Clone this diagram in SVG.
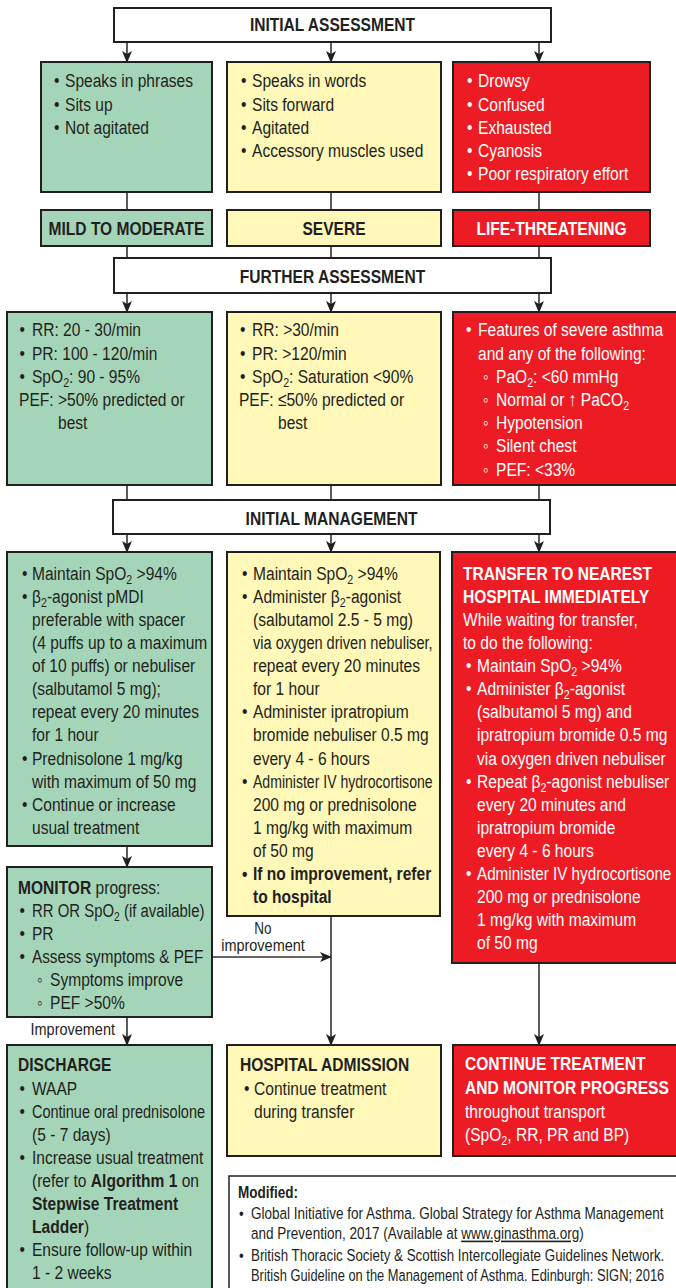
<svg xmlns="http://www.w3.org/2000/svg" width="676" height="1288" viewBox="0 0 676 1288">
<style>
.t{font-family:"Liberation Sans",Arial,sans-serif;font-size:19px;fill:#231f20}
.w{fill:#fff}
.b{font-weight:bold}
.c{text-anchor:middle}
.e{text-anchor:end}
.s{font-size:13px}
.r{font-size:16.5px}
.l{font-size:16.5px}
.bx{fill:#fff;stroke:#231f20;stroke-width:2}
.g{fill:#a5d5b8;stroke:#231f20;stroke-width:2}
.y{fill:#fff8b8;stroke:#231f20;stroke-width:2}
.rd{fill:#ed1c24;stroke:#231f20;stroke-width:2}
.ln{fill:none;stroke:#333;stroke-width:1.6}
.ar{fill:none;stroke:#333;stroke-width:1.6;marker-end:url(#ah)}
</style>
<defs>
<marker id="ah" markerUnits="userSpaceOnUse" markerWidth="12" markerHeight="12" viewBox="0 0 12 12" refX="11" refY="6" orient="auto">
<path d="M0,1 L12,6 L0,11 L3,6 z" fill="#231f20"/>
</marker>
</defs>

<g id="connectors">
<path class="ar" d="M127,42 V62"/>
<path class="ar" d="M331,42 V62"/>
<path class="ar" d="M539,42 V62"/>
<path class="ln" d="M127,192 V210 M331,192 V210 M539,192 V210"/>
<path class="ln" d="M127,246 V258 M331,246 V258 M539,246 V258"/>
<path class="ar" d="M127,293 V312"/>
<path class="ar" d="M331,293 V312"/>
<path class="ar" d="M539,293 V312"/>
<path class="ln" d="M127,485 V500 M331,485 V500 M539,485 V500"/>
<path class="ar" d="M127,534 V552"/>
<path class="ar" d="M331,534 V552"/>
<path class="ar" d="M539,534 V552"/>
<path class="ar" d="M127,846 V867"/>
<path class="ar" d="M331,916 V1045"/>
<path class="ar" d="M212,957 H331"/>
<path class="ar" d="M539,963 V1045"/>
<path class="ar" d="M127,1017 V1045"/>
<g transform="scale(0.82,1)">
<text class="t l c" x="320.73" y="934">No</text>
<text class="t l c" x="320.73" y="951.5" textLength="102" lengthAdjust="spacingAndGlyphs">improvement</text>
<text class="t l e" x="140.24" y="1035.5" textLength="103" lengthAdjust="spacingAndGlyphs">Improvement</text>
</g>
</g>

<g id="initial-assessment">
<rect class="bx" x="114" y="8" width="437" height="34"/>
<g transform="scale(0.82,1)">
<text class="t b c" x="405.49" y="31.5">INITIAL ASSESSMENT</text>
</g>
</g>

<g id="mild-signs">
<rect class="g" x="41" y="62" width="171" height="130"/>
<g transform="scale(0.82,1)">
<text class="t" y="87.5"><tspan x="65.85">•</tspan><tspan x="79.27">Speaks in phrases</tspan></text>
<text class="t" y="110.7"><tspan x="65.85">•</tspan><tspan x="79.27">Sits up</tspan></text>
<text class="t" y="133.9"><tspan x="65.85">•</tspan><tspan x="79.27">Not agitated</tspan></text>
</g>
</g>

<g id="severe-signs">
<rect class="y" x="227" y="62" width="214" height="130"/>
<g transform="scale(0.82,1)">
<text class="t" y="87.5"><tspan x="293.9">•</tspan><tspan x="307.32">Speaks in words</tspan></text>
<text class="t" y="110.7"><tspan x="293.9">•</tspan><tspan x="307.32">Sits forward</tspan></text>
<text class="t" y="133.9"><tspan x="293.9">•</tspan><tspan x="307.32">Agitated</tspan></text>
<text class="t" y="157.1"><tspan x="293.9">•</tspan><tspan x="307.32">Accessory muscles used</tspan></text>
</g>
</g>

<g id="life-signs">
<rect class="rd" x="453" y="62" width="197" height="130"/>
<g transform="scale(0.82,1)">
<text class="t w" y="87.5"><tspan x="569.51">•</tspan><tspan x="582.93">Drowsy</tspan></text>
<text class="t w" y="110.7"><tspan x="569.51">•</tspan><tspan x="582.93">Confused</tspan></text>
<text class="t w" y="133.9"><tspan x="569.51">•</tspan><tspan x="582.93">Exhausted</tspan></text>
<text class="t w" y="157.1"><tspan x="569.51">•</tspan><tspan x="582.93">Cyanosis</tspan></text>
<text class="t w" y="180.3"><tspan x="569.51">•</tspan><tspan x="582.93">Poor respiratory effort</tspan></text>
</g>
</g>

<g id="label-mild">
<rect class="g" x="41" y="210" width="171" height="36"/>
<g transform="scale(0.82,1)"><text class="t b c" x="154.27" y="235.5">MILD TO MODERATE</text></g>
</g>
<g id="label-severe">
<rect class="y" x="227" y="210" width="214" height="36"/>
<g transform="scale(0.82,1)"><text class="t b c" x="407.32" y="235.5">SEVERE</text></g>
</g>
<g id="label-life">
<rect class="rd" x="453" y="210" width="197" height="36"/>
<g transform="scale(0.82,1)"><text class="t b c w" x="672.56" y="235.5">LIFE-THREATENING</text></g>
</g>

<g id="further-assessment">
<rect class="bx" x="114" y="258" width="437" height="35"/>
<g transform="scale(0.82,1)"><text class="t b c" x="405.49" y="283.5">FURTHER ASSESSMENT</text></g>
</g>

<g id="mild-further">
<rect class="g" x="7" y="312" width="205" height="173"/>
<g transform="scale(0.82,1)">
<text class="t" y="336.5"><tspan x="23.78">•</tspan><tspan x="39.02">RR: 20 - 30/min</tspan></text>
<text class="t" y="359.7"><tspan x="23.78">•</tspan><tspan x="39.02">PR: 100 - 120/min</tspan></text>
<text class="t" y="382.9"><tspan x="23.78">•</tspan><tspan x="39.02">SpO</tspan><tspan class="s" dy="4">2</tspan><tspan dy="-4">: 90 - 95%</tspan></text>
<text class="t" x="23.17" y="406.1">PEF: &gt;50% predicted or</text>
<text class="t" x="70.73" y="429.3">best</text>
</g>
</g>

<g id="severe-further">
<rect class="y" x="227" y="312" width="214" height="173"/>
<g transform="scale(0.82,1)">
<text class="t" y="336.5"><tspan x="292.68">•</tspan><tspan x="307.32">RR: &gt;30/min</tspan></text>
<text class="t" y="359.7"><tspan x="292.68">•</tspan><tspan x="307.32">PR: &gt;120/min</tspan></text>
<text class="t" y="382.9"><tspan x="292.68">•</tspan><tspan x="307.32">SpO</tspan><tspan class="s" dy="4">2</tspan><tspan dy="-4">: Saturation &lt;90%</tspan></text>
<text class="t" x="291.46" y="406.1">PEF: ≤50% predicted or</text>
<text class="t" x="339.02" y="429.3">best</text>
</g>
</g>

<g id="life-further">
<rect class="rd" x="453" y="312" width="230" height="173"/>
<g transform="scale(0.82,1)">
<text class="t w" y="336.5"><tspan x="568.29">•</tspan><tspan x="582.93">Features of severe asthma</tspan></text>
<text class="t w" x="582.93" y="359.7">and any of the following:</text>
<text class="t w" y="382.9"><tspan x="589.02">◦</tspan><tspan x="604.88">PaO</tspan><tspan class="s" dy="4">2</tspan><tspan dy="-4">: &lt;60 mmHg</tspan></text>
<text class="t w" y="406.1"><tspan x="589.02">◦</tspan><tspan x="604.88">Normal or ↑ PaCO</tspan><tspan class="s" dy="4">2</tspan></text>
<text class="t w" y="429.3"><tspan x="589.02">◦</tspan><tspan x="604.88">Hypotension</tspan></text>
<text class="t w" y="452.5"><tspan x="589.02">◦</tspan><tspan x="604.88">Silent chest</tspan></text>
<text class="t w" y="475.7"><tspan x="589.02">◦</tspan><tspan x="604.88">PEF: &lt;33%</tspan></text>
</g>
</g>

<g id="initial-management">
<rect class="bx" x="113" y="500" width="437" height="34"/>
<g transform="scale(0.82,1)"><text class="t b c" x="404.27" y="525.5">INITIAL MANAGEMENT</text></g>
</g>

<g id="mild-management">
<rect class="g" x="7" y="552" width="205" height="294"/>
<g transform="scale(0.82,1)">
<text class="t" y="579.8"><tspan x="26.83">•</tspan><tspan x="39.02">Maintain SpO</tspan><tspan class="s" dy="4">2</tspan><tspan dy="-4"> &gt;94%</tspan></text>
<text class="t" y="602.9"><tspan x="26.83">•</tspan><tspan x="39.02">β</tspan><tspan class="s" dy="4">2</tspan><tspan dy="-4">-agonist pMDI</tspan></text>
<text class="t" x="39.02" y="626">preferable with spacer</text>
<text class="t" x="39.02" y="649.1">(4 puffs up to a maximum</text>
<text class="t" x="39.02" y="672.2">of 10 puffs) or nebuliser</text>
<text class="t" x="39.02" y="695.3">(salbutamol 5 mg);</text>
<text class="t" x="39.02" y="718.4">repeat every 20 minutes</text>
<text class="t" x="39.02" y="741.5">for 1 hour</text>
<text class="t" y="764.6"><tspan x="26.83">•</tspan><tspan x="39.02">Prednisolone 1 mg/kg</tspan></text>
<text class="t" x="39.02" y="787.7">with maximum of 50 mg</text>
<text class="t" y="810.8"><tspan x="26.83">•</tspan><tspan x="39.02">Continue or increase</tspan></text>
<text class="t" x="39.02" y="833.9">usual treatment</text>
</g>
</g>

<g id="severe-management">
<rect class="y" x="227" y="552" width="213" height="364"/>
<g transform="scale(0.82,1)">
<text class="t" y="579.8"><tspan x="295.12">•</tspan><tspan x="308.54">Maintain SpO</tspan><tspan class="s" dy="4">2</tspan><tspan dy="-4"> &gt;94%</tspan></text>
<text class="t" y="602.9"><tspan x="295.12">•</tspan><tspan x="308.54">Administer β</tspan><tspan class="s" dy="4">2</tspan><tspan dy="-4">-agonist</tspan></text>
<text class="t" x="308.54" y="626">(salbutamol 2.5 - 5 mg)</text>
<text class="t" x="308.54" y="649.1" textLength="219" lengthAdjust="spacingAndGlyphs">via oxygen driven nebuliser,</text>
<text class="t" x="308.54" y="672.2">repeat every 20 minutes</text>
<text class="t" x="308.54" y="695.3">for 1 hour</text>
<text class="t" y="718.4"><tspan x="295.12">•</tspan><tspan x="308.54">Administer ipratropium</tspan></text>
<text class="t" x="308.54" y="741.5">bromide nebuliser 0.5 mg</text>
<text class="t" x="308.54" y="764.6">every 4 - 6 hours</text>
<text class="t" x="295.12" y="787.7">•</text>
<text class="t" x="308.54" y="787.7" textLength="219" lengthAdjust="spacingAndGlyphs">Administer IV hydrocortisone</text>
<text class="t" x="308.54" y="810.8">200 mg or prednisolone</text>
<text class="t" x="308.54" y="833.9">1 mg/kg with maximum</text>
<text class="t" x="308.54" y="857">of 50 mg</text>
<text class="t b" y="880.1"><tspan x="295.12">•</tspan><tspan x="308.54">If no improvement, refer</tspan></text>
<text class="t b" x="308.54" y="903.2">to hospital</text>
</g>
</g>

<g id="life-management">
<rect class="rd" x="452" y="552" width="230" height="411"/>
<g transform="scale(0.82,1)">
<text class="t w b" x="564.63" y="579.8">TRANSFER TO NEAREST</text>
<text class="t w b" x="564.63" y="602.9">HOSPITAL IMMEDIATELY</text>
<text class="t w" x="564.63" y="626">While waiting for transfer,</text>
<text class="t w" x="564.63" y="649.1">to do the following:</text>
<text class="t w" y="672.2"><tspan x="568.29">•</tspan><tspan x="581.71">Maintain SpO</tspan><tspan class="s" dy="4">2</tspan><tspan dy="-4"> &gt;94%</tspan></text>
<text class="t w" y="695.3"><tspan x="568.29">•</tspan><tspan x="581.71">Administer β</tspan><tspan class="s" dy="4">2</tspan><tspan dy="-4">-agonist</tspan></text>
<text class="t w" x="581.71" y="718.4">(salbutamol 5 mg) and</text>
<text class="t w" x="581.71" y="741.5">ipratropium bromide 0.5 mg</text>
<text class="t w" x="581.71" y="764.6">via oxygen driven nebuliser</text>
<text class="t w" y="787.7"><tspan x="568.29">•</tspan><tspan x="581.71">Repeat β</tspan><tspan class="s" dy="4">2</tspan><tspan dy="-4">-agonist nebuliser</tspan></text>
<text class="t w" x="581.71" y="810.8">every 20 minutes and</text>
<text class="t w" x="581.71" y="833.9">ipratropium bromide</text>
<text class="t w" x="581.71" y="857">every 4 - 6 hours</text>
<text class="t w" x="568.29" y="880.1">•</text>
<text class="t w" x="581.71" y="880.1" textLength="237" lengthAdjust="spacingAndGlyphs">Administer IV hydrocortisone</text>
<text class="t w" x="581.71" y="903.2">200 mg or prednisolone</text>
<text class="t w" x="581.71" y="926.3">1 mg/kg with maximum</text>
<text class="t w" x="581.71" y="949.4">of 50 mg</text>
</g>
</g>

<g id="monitor">
<rect class="g" x="7" y="867" width="205" height="150"/>
<g transform="scale(0.82,1)">
<text class="t" x="21.95" y="894.5"><tspan class="b">MONITOR</tspan> progress:</text>
<text class="t" x="23.78" y="917.5">•</text>
<text class="t" y="940.5"><tspan x="23.78">•</tspan><tspan x="39.02">PR</tspan></text>
<text class="t" x="23.78" y="963.5">•</text>
<text class="t" x="39.02" y="963.5" textLength="209" lengthAdjust="spacingAndGlyphs">Assess symptoms &amp; PEF</text>
<text class="t" y="986.5"><tspan x="45.12">◦</tspan><tspan x="60.98">Symptoms improve</tspan></text>
<text class="t" y="1009.5"><tspan x="45.12">◦</tspan><tspan x="60.98">PEF &gt;50%</tspan></text>
</g>
<g transform="scale(0.786,1)">
<text class="t" x="40.71" y="917.5">RR OR SpO<tspan class="s" dy="4">2</tspan><tspan dy="-4"> (if available)</tspan></text>
</g>
</g>

<g id="discharge">
<rect class="g" x="7" y="1045" width="205" height="260"/>
<g transform="scale(0.82,1)">
<text class="t b" x="21.95" y="1071">DISCHARGE</text>
<text class="t" y="1095.5"><tspan x="23.78">•</tspan><tspan x="39.02">WAAP</tspan></text>
<text class="t" x="23.78" y="1118.5">•</text>
<text class="t" x="39.02" y="1118.5" textLength="211" lengthAdjust="spacingAndGlyphs">Continue oral prednisolone</text>
<text class="t" x="39.02" y="1141.5">(5 - 7 days)</text>
<text class="t" y="1164.5"><tspan x="23.78">•</tspan><tspan x="39.02">Increase usual treatment</tspan></text>
<text class="t" x="39.02" y="1187.5">(refer to <tspan class="b">Algorithm 1</tspan> on</text>
<text class="t b" x="39.02" y="1210.5">Stepwise Treatment</text>
<text class="t" x="39.02" y="1233.5"><tspan class="b">Ladder</tspan>)</text>
<text class="t" y="1256.5"><tspan x="23.78">•</tspan><tspan x="39.02">Ensure follow-up within</tspan></text>
<text class="t" x="39.02" y="1279.5">1 - 2 weeks</text>
</g>
</g>

<g id="hospital-admission">
<rect class="y" x="227" y="1045" width="214" height="111"/>
<g transform="scale(0.82,1)">
<text class="t b" x="292.68" y="1071">HOSPITAL ADMISSION</text>
<text class="t" y="1095.5"><tspan x="297.56">•</tspan><tspan x="309.76">Continue treatment</tspan></text>
<text class="t" x="309.76" y="1118.5">during transfer</text>
</g>
</g>

<g id="continue-treatment">
<rect class="rd" x="453" y="1045" width="230" height="111"/>
<g transform="scale(0.82,1)">
<text class="t w b" x="567.07" y="1070">CONTINUE TREATMENT</text>
<text class="t w b" x="567.07" y="1094">AND MONITOR PROGRESS</text>
<text class="t w" x="567.07" y="1118">throughout transport</text>
<text class="t w" x="567.07" y="1141">(SpO<tspan class="s" dy="4">2</tspan><tspan dy="-4">, RR, PR and BP)</tspan></text>
</g>
</g>

<g id="references">
<rect x="229" y="1176" width="460" height="130" fill="#fff" stroke="#231f20" stroke-width="1.5"/>
<g transform="scale(0.82,1)">
<text class="t r b" x="290.24" y="1198.5">Modified:</text>
<text class="t r" x="291.46" y="1219.5">•</text>
<text class="t r" x="306.1" y="1219.5" textLength="503" lengthAdjust="spacingAndGlyphs">Global Initiative for Asthma. Global Strategy for Asthma Management</text>
<text class="t r" x="306.1" y="1239.5">and Prevention, 2017 (Available at <tspan text-decoration="underline">www.ginasthma.org</tspan>)</text>
<text class="t r" x="291.46" y="1261">•</text>
<text class="t r" x="306.1" y="1261" textLength="504" lengthAdjust="spacingAndGlyphs">British Thoracic Society &amp; Scottish Intercollegiate Guidelines Network.</text>
<text class="t r" x="306.1" y="1281" textLength="504" lengthAdjust="spacingAndGlyphs">British Guideline on the Management of Asthma. Edinburgh: SIGN; 2016</text>
</g>
</g>
</svg>
